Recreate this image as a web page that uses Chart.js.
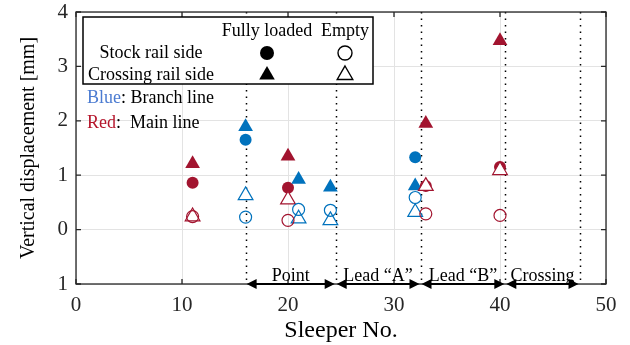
<!DOCTYPE html>
<html>
<head>
<meta charset="utf-8">
<script src="https://cdn.jsdelivr.net/npm/chart.js@4/dist/chart.umd.min.js"></script>
<style>
  html, body { margin: 0; padding: 0; background: #fff; }
  #wrap { width: 630px; height: 345px; }
</style>
</head>
<body>
<div id="wrap"><canvas id="chart"></canvas></div>
<script>
// sleeper numbers and displacements [mm]
const branchSleepers = [16, 21, 24, 32];
const branchStockLoaded = [1.65, null, null, 1.33];
const branchCrossingLoaded = [1.89, 0.92, 0.78, 0.80];
const branchStockEmpty = [0.23, 0.37, 0.355, 0.59];
const branchCrossingEmpty = [0.63, 0.20, 0.17, 0.32];

const mainSleepers = [11, 20, 33, 40];
const mainStockLoaded = [0.86, 0.77, 0.80, 1.15];
const mainCrossingLoaded = [1.21, 1.35, 1.95, 3.47];
const mainStockEmpty = [0.24, 0.17, 0.29, 0.26];
const mainCrossingEmpty = [0.24, 0.55, 0.80, 1.09];

// section boundaries along the turnout
const sectionBounds = [16, 24.5, 32.5, 40.5, 47.5];
const sectionLabels = ['Point', 'Lead \u201cA\u201d', 'Lead \u201cB\u201d', 'Crossing'];

const yTickValues = [-1, 0, 1, 2, 3, 4];
const yTickLabels = ['1', '0', '1', '2', '3', '4'];

const BLUE = '#0072BD';
const RED = '#A2142F';
const FONT = "'Liberation Serif', 'Times New Roman', serif";

function pts(xs, ys) {
  return xs.map((x, i) => ({ x, y: ys[i] })).filter(p => p.y !== null);
}

function series(xs, ys, color, style, filled) {
  return {
    data: pts(xs, ys),
    pointStyle: style,
    pointRadius: style === 'triangle' ? 8.5 : 6,
    pointHoverRadius: style === 'triangle' ? 8.5 : 6,
    backgroundColor: filled ? color : (style === 'triangle' ? '#fff' : 'rgba(0,0,0,0)'),
    borderColor: color,
    borderWidth: filled ? 0 : 1.2,
    showLine: false
  };
}

// first dataset ends up on top
const datasets = [
  series(branchSleepers, branchStockEmpty, BLUE, 'circle', false),
  series(mainSleepers, mainStockEmpty, RED, 'circle', false),
  series(branchSleepers, branchCrossingEmpty, BLUE, 'triangle', false),
  series(mainSleepers, mainCrossingEmpty, RED, 'triangle', false),
  series(branchSleepers, branchCrossingLoaded, BLUE, 'triangle', true),
  series(mainSleepers, mainCrossingLoaded, RED, 'triangle', true),
  series(branchSleepers, branchStockLoaded, BLUE, 'circle', true),
  series(mainSleepers, mainStockLoaded, RED, 'circle', true)
];

function drawMarker(ctx, style, x, y, filled) {
  ctx.save();
  ctx.fillStyle = filled ? '#000' : '#fff';
  ctx.strokeStyle = '#000';
  ctx.lineWidth = 1.4;
  ctx.beginPath();
  if (style === 'circle') {
    ctx.arc(x, y, 7, 0, Math.PI * 2);
  } else {
    const r = 9;
    ctx.moveTo(x, y - r);
    ctx.lineTo(x + r * 0.866, y + r / 2);
    ctx.lineTo(x - r * 0.866, y + r / 2);
    ctx.closePath();
  }
  ctx.fill();
  if (!filled) ctx.stroke();
  ctx.restore();
}

function arrowHead(ctx, x, y, dir) {
  ctx.beginPath();
  ctx.moveTo(x, y);
  ctx.lineTo(x - dir * 10, y - 5);
  ctx.lineTo(x - dir * 10, y + 5);
  ctx.closePath();
  ctx.fill();
}

const overlay = {
  id: 'overlay',
  beforeDatasetsDraw(chart) {
    const { ctx, chartArea: a, scales: { x } } = chart;
    ctx.save();
    ctx.strokeStyle = '#000';
    ctx.lineWidth = 1.5;
    ctx.setLineDash([1.5, 5]);
    sectionBounds.forEach(b => {
      const px = Math.round(x.getPixelForValue(b)) + 0.5;
      ctx.beginPath();
      ctx.moveTo(px, a.top);
      ctx.lineTo(px, a.bottom);
      ctx.stroke();
    });
    ctx.restore();
  },
  afterDraw(chart) {
    const { ctx, chartArea: a, scales: { x, y } } = chart;
    ctx.save();

    // axes box with inward ticks
    ctx.strokeStyle = '#262626';
    ctx.lineWidth = 1.3;
    ctx.strokeRect(a.left, a.top, a.right - a.left, a.bottom - a.top);
    ctx.beginPath();
    x.ticks.forEach(t => {
      const px = x.getPixelForValue(t.value);
      ctx.moveTo(px, a.bottom); ctx.lineTo(px, a.bottom - 5);
      ctx.moveTo(px, a.top); ctx.lineTo(px, a.top + 5);
    });
    y.ticks.forEach(t => {
      const py = y.getPixelForValue(t.value);
      ctx.moveTo(a.left, py); ctx.lineTo(a.left + 5, py);
      ctx.moveTo(a.right, py); ctx.lineTo(a.right - 5, py);
    });
    ctx.stroke();

    // section arrows and names
    ctx.strokeStyle = '#000';
    ctx.fillStyle = '#000';
    ctx.lineWidth = 2;
    ctx.font = '18px ' + FONT;
    ctx.textAlign = 'center';
    ctx.textBaseline = 'alphabetic';
    const ay = a.bottom;
    sectionLabels.forEach((label, i) => {
      const x0 = x.getPixelForValue(sectionBounds[i]);
      const x1 = x.getPixelForValue(sectionBounds[i + 1]);
      ctx.beginPath();
      ctx.moveTo(x0 + 4, ay);
      ctx.lineTo(x1 - 4, ay);
      ctx.stroke();
      arrowHead(ctx, x0 + 1, ay, -1);
      arrowHead(ctx, x1 - 1, ay, 1);
      ctx.fillText(label, (x0 + x1) / 2, ay - 3);
    });

    // legend box
    const lx = a.left + 7, ly = a.top + 5;
    ctx.fillStyle = '#fff';
    ctx.fillRect(lx, ly, 290, 67);
    ctx.strokeStyle = '#000';
    ctx.lineWidth = 1.5;
    ctx.strokeRect(lx, ly, 290, 67);
    ctx.fillStyle = '#000';
    ctx.textBaseline = 'middle';
    ctx.fillText('Fully loaded', lx + 184, ly + 14);
    ctx.fillText('Empty', lx + 262, ly + 14);
    ctx.fillText('Stock rail side', lx + 68, ly + 36);
    ctx.fillText('Crossing rail side', lx + 68, ly + 58);
    drawMarker(ctx, 'circle', lx + 184, ly + 36, true);
    drawMarker(ctx, 'circle', lx + 262, ly + 36, false);
    drawMarker(ctx, 'triangle', lx + 184, ly + 58, true);
    drawMarker(ctx, 'triangle', lx + 262, ly + 58, false);

    // colour key
    ctx.textAlign = 'left';
    let tx = a.left + 11;
    ctx.fillStyle = '#4B7BD1';
    ctx.fillText('Blue', tx, ly + 81);
    tx += ctx.measureText('Blue').width;
    ctx.fillStyle = '#000';
    ctx.fillText(': Branch line', tx, ly + 81);
    tx = a.left + 11;
    ctx.fillStyle = '#B5152B';
    ctx.fillText('Red', tx, ly + 106);
    tx += ctx.measureText('Red').width;
    ctx.fillStyle = '#000';
    ctx.fillText(':  Main line', tx, ly + 106);

    ctx.restore();
  }
};

new Chart(document.getElementById('chart'), {
  type: 'scatter',
  data: { datasets },
  plugins: [overlay],
  options: {
    responsive: true,
    maintainAspectRatio: false,
    animation: false,
    events: [],
    layout: { padding: { top: 12, right: 24, left: 0, bottom: 0 } },
    plugins: { legend: { display: false }, tooltip: { enabled: false } },
    scales: {
      x: {
        type: 'linear',
        min: 0,
        max: 50,
        ticks: { stepSize: 10, color: '#262626', padding: 9, font: { family: FONT, size: 21 } },
        grid: { color: '#e3e3e3', drawTicks: false },
        border: { display: false },
        title: { display: true, text: 'Sleeper No.', color: '#000', padding: { top: 0, bottom: 0 }, font: { family: FONT, size: 24 } },
        afterFit: s => { s.height = 61; s.paddingLeft = 0; s.paddingRight = 0; }
      },
      y: {
        type: 'linear',
        min: -1,
        max: 4,
        afterBuildTicks: s => { s.ticks = yTickValues.map(v => ({ value: v })); },
        ticks: {
          color: '#262626',
          padding: 8,
          font: { family: FONT, size: 21 },
          callback: v => yTickLabels[yTickValues.indexOf(v)]
        },
        grid: { color: '#e3e3e3', drawTicks: false },
        border: { display: false },
        title: { display: true, text: 'Vertical displacement [mm]', color: '#000', padding: { top: 17, bottom: 0 }, font: { family: FONT, size: 20 } },
        afterFit: s => { s.width = 76; s.paddingTop = 0; s.paddingBottom = 0; }
      }
    }
  }
});
</script>
</body>
</html>
